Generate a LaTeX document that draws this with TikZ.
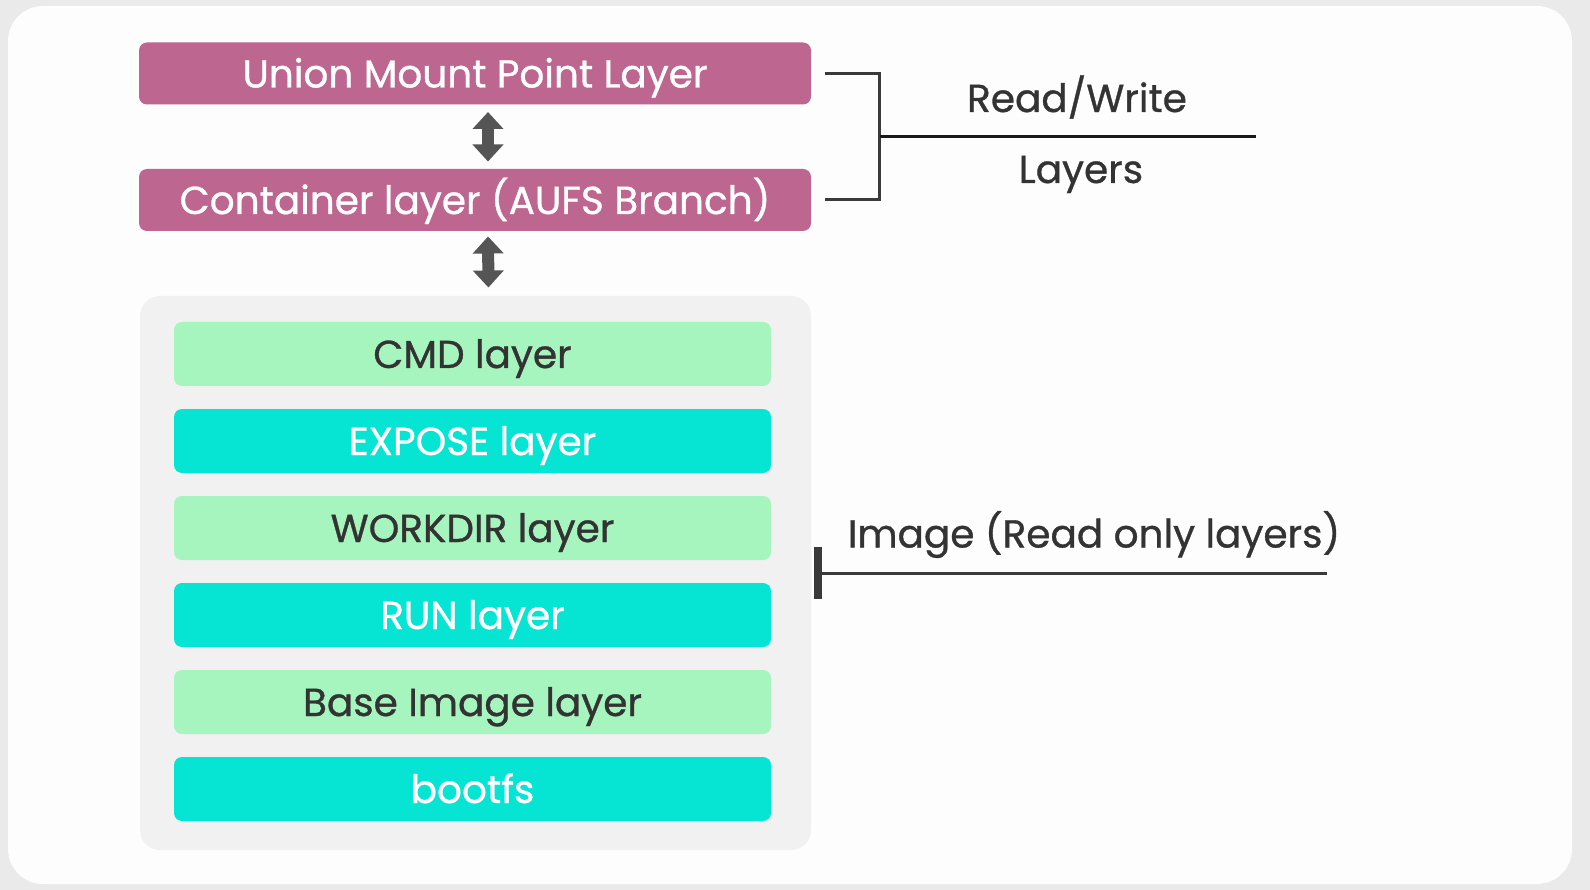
\documentclass[tikz,border=0pt]{standalone}
\usepackage{fontspec}
\setmainfont{Poppins}[FakeBold=0.8]
\usetikzlibrary{arrows.meta,calc}
\definecolor{outbg}{HTML}{EAEAEA}
\definecolor{cardbg}{HTML}{FDFDFD}
\definecolor{panelgrey}{HTML}{F1F1F1}
\definecolor{rwpink}{HTML}{BC6690}
\definecolor{imglite}{HTML}{A6F5BF}
\definecolor{imgaqua}{HTML}{06E5D4}
\definecolor{txtdark}{HTML}{333333}
\definecolor{arrowgrey}{HTML}{555555}
\definecolor{linedark}{HTML}{3A3A3A}

\begin{document}
\begin{tikzpicture}[x=1pt,y=-1pt,line width=3pt,
  layer/.style={rounded corners=8pt,minimum width=597pt,minimum height=64pt,inner sep=0pt,text height=28pt,text depth=0pt,font=\fontsize{39}{39}\selectfont},
  lite/.style={layer,fill=imglite,text=txtdark},
  aqua/.style={layer,fill=imgaqua,text=white},
  rw/.style={layer,fill=rwpink,text=white,minimum width=672pt,minimum height=62pt},
  lab/.style={inner sep=0pt,text height=28pt,text depth=0pt,text=txtdark,font=\fontsize{39}{39}\selectfont},
  dbl/.style={draw=arrowgrey,line width=12pt,{Triangle[width=30pt,length=17pt]}-{Triangle[width=30pt,length=17pt]}},
  brk/.style={draw=linedark,line width=3pt}]
\useasboundingbox (0,0) rectangle (1590,890);
\fill[outbg] (0,0) rectangle (1590,890);
\fill[cardbg,rounded corners=35pt] (8,6) rectangle (1572,884);
% read/write part
\node[rw] (union) at (475,73.5) {Union Mount Point Layer};
\node[rw] (cont) at (475,200) {Container layer (AUFS Branch)};
% image part
\node[fill=panelgrey,rounded corners=20pt,minimum width=671pt,minimum height=554pt] (panel) at (475.5,573) {};
\foreach \name/\txt/\kind [count=\i] in {cmd/CMD layer/lite,expose/EXPOSE layer/aqua,workdir/WORKDIR layer/lite,run/RUN layer/aqua,base/Base Image layer/lite,boot/bootfs/aqua}
  {\node[\kind] (\name) at (472.5,{267+87*\i}) {\txt};};
\draw[dbl,shorten <=6pt,shorten >=6pt] ([xshift=13pt]union.south) -- ([xshift=13pt]cont.north);
\draw[dbl,shorten <=4pt,shorten >=7pt] ([xshift=13pt]cont.south) -- ([xshift=13pt]panel.north);
% bracket and labels
\draw[brk] ([xshift=12pt]union.east) -- ++(55,0) |- ([xshift=12pt]cont.east);
\coordinate (rwmid) at ($(union.east)!0.5!(cont.east)+(67,0)$);
\draw[line width=3pt,black!90] (rwmid) -- ++(376,0) coordinate (rwend);
\node[lab] (rwtop) at (1077,98) {Read/Write};
\node[lab] (rwbot) at (1081,169) {Layers};
\draw[draw=linedark,line width=8pt] ([xshift=5pt,yshift=26pt]panel.east) -- ([xshift=5pt,yshift=-26pt]panel.east);
\draw[brk] ([xshift=5pt]panel.east) -- ++(509,0) coordinate (imgend);
\node[lab] (imglab) at (1094,533.5) {Image (Read only layers)};
\end{tikzpicture}
\end{document}
